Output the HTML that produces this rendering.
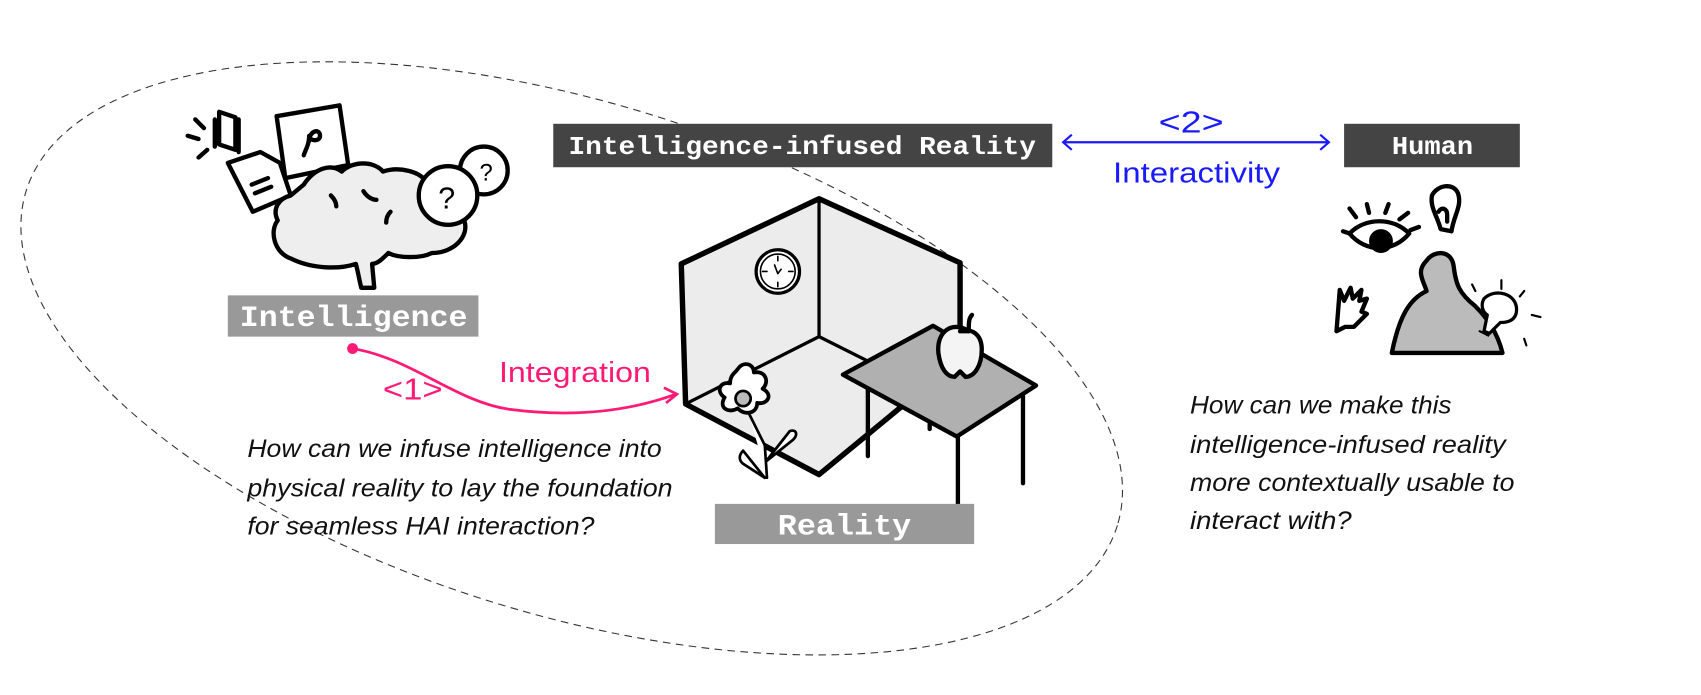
<!DOCTYPE html>
<html><head><meta charset="utf-8"><style>
html,body{margin:0;padding:0;background:#fff;width:1701px;height:695px;overflow:hidden}
svg{display:block;position:absolute;left:0;top:0}
.mono{font-family:"Liberation Mono","DejaVu Sans Mono",monospace;fill:#fff;font-weight:bold}
.it{font-family:"Liberation Sans",sans-serif;font-style:italic;font-size:23px;fill:#111}
.sk{fill:none;stroke:#000;stroke-width:4;stroke-linecap:round;stroke-linejoin:round}
</style></head><body>
<svg width="1701" height="695" viewBox="0 0 1568 640" preserveAspectRatio="none">
<ellipse cx="527" cy="330" rx="526" ry="236" transform="rotate(17 527 330)" fill="none" stroke="#333" stroke-width="1" stroke-dasharray="7,5"/>

<!-- Intelligence drawing -->
<g class="sk" stroke-width="3.5">
<path d="M173,125 l10,3 M180,110 l8,8 M183,145 l8,-7"/>
<path d="M198,110 l0,25 M202,103 l15,5 l0,30 l-15,-5 z M220,110 l0,30" fill="#fff"/>
<path d="M255,107 l58,-10 l8,55 l-58,12 z" fill="#fff"/>
<path d="M285,130 c0,-10 10,-12 10,-5 c0,6 -10,5 -10,0 c0,8 -3,12 -5,18"/>
<path d="M210,150 l30,-10 l18,10 l10,30 l-35,15 z" fill="#fff"/>
<path d="M232,170 l15,-6 M235,178 l15,-6"/>
<path d="M280,170 c10,-15 25,-20 35,-12 c10,-10 30,-10 38,0 c15,-5 35,0 40,10 c20,0 35,15 35,35 c5,15 -10,30 -30,30 c-10,5 -30,5 -40,0 c-5,5 -10,10 -15,10 l2,22 l-12,0 c-2,-8 -3,-15 -5,-22 c-15,5 -40,5 -60,-5 c-15,-5 -20,-25 -12,-35 c-5,-10 0,-20 12,-23 z" fill="#eee"/>
<path d="M305,180 c3,3 5,6 5,10 M335,176 c3,5 8,8 12,8 M360,195 c-3,3 -4,7 -4,10"/>
<circle cx="446" cy="157" r="22" fill="#fff"/>
<circle cx="413" cy="180" r="27" fill="#fff"/>
<text x="404" y="192" font-family="Liberation Sans" font-size="28" fill="#000" stroke="none">?</text>
<text x="442" y="166" font-family="Liberation Sans" font-size="22" fill="#000" stroke="none">?</text>
</g>
<rect x="210" y="272" width="231" height="38" fill="#999"/>
<text class="mono" x="221" y="300" font-size="27" textLength="210" lengthAdjust="spacingAndGlyphs">Intelligence</text>

<!-- Room -->
<g class="sk">
<path d="M628,243 L755,183 L885,242 L885,330 L800,400 L755,437 L632,372 Z" fill="#ececec" stroke-width="5"/>
<path d="M755,183 L755,310 M632,372 L755,310 L825,345" stroke-width="3"/>
<circle cx="717" cy="250" r="20" fill="#fff" stroke-width="3"/>
<circle cx="717" cy="250" r="16" fill="none" stroke-width="1.5"/>
<path d="M717,236 v4 M717,260 v4 M703,250 h4 M727,250 h4 M714,244 l3,8 l3,-4" stroke-width="1.5"/>
<path d="M800,355 L800,420 M857,380 L857,395 M883,400 L883,465 M943,365 L943,445"/>
<path d="M777,345 L860,300 L955,355 L882,402 Z" fill="#b0b0b0"/>
<path d="M893,305 c-15,-10 -30,0 -28,20 c2,15 8,22 15,22 l5,-5 l5,5 c8,0 15,-10 15,-25 c0,-15 -10,-20 -20,-17 z" fill="#f4f4f4"/>
<path d="M893,305 c0,-8 0,-12 3,-15"/>
<path d="M680,340 c5,-8 15,-5 15,3 c10,-2 15,8 8,15 c10,5 5,15 -5,13 c0,10 -12,12 -18,5 c-8,5 -18,0 -12,-10 c-8,-5 -5,-15 5,-13 c0,-8 5,-10 7,-13 z" fill="#fff" stroke-width="3.5"/>
<circle cx="685" cy="367" r="7" fill="#bbb" stroke-width="2.5"/>
<path d="M690,380 l15,30 l2,30 M706,425 l25,-20 c5,-5 3,-10 -3,-8 l-22,28 M705,440 l-20,-25 c-5,5 -3,10 0,12 z" stroke-width="2.5" fill="#fff"/>
</g>
<rect x="659" y="464" width="239" height="37" fill="#999"/>
<text class="mono" x="717" y="492" font-size="27" textLength="123" lengthAdjust="spacingAndGlyphs">Reality</text>

<!-- Top labels -->
<rect x="510" y="114" width="460" height="40" fill="#444"/>
<text class="mono" x="524" y="142" font-size="24" textLength="431" lengthAdjust="spacingAndGlyphs">Intelligence-infused Reality</text>
<rect x="1239" y="114" width="162" height="40" fill="#444"/>
<text class="mono" x="1283" y="142" font-size="24" textLength="75" lengthAdjust="spacingAndGlyphs">Human</text>

<!-- Blue arrow -->
<path d="M980,131 L1225,131 M988,124 l-8,7 l8,7 M1217,124 l8,7 l-8,7" stroke="#1a1aff" stroke-width="2" fill="none"/>
<text x="1068" y="122" font-family="Liberation Sans" font-size="28" fill="#1a1aff" textLength="60" lengthAdjust="spacingAndGlyphs">&lt;2&gt;</text>
<text x="1026" y="168" font-family="Liberation Sans" font-size="26" fill="#1a1aff" textLength="154" lengthAdjust="spacingAndGlyphs">Interactivity</text>

<!-- Pink arrow -->
<circle cx="325" cy="321" r="5" fill="#ff1a75"/>
<path d="M325,321 C380,330 420,370 470,377 C540,386 590,375 623,363" stroke="#ff1a75" stroke-width="2.5" fill="none"/>
<path d="M612,357 l12,6 l-10,8" stroke="#ff1a75" stroke-width="2.5" fill="none"/>
<text x="460" y="352" font-family="Liberation Sans" font-size="26" fill="#ff1a75" textLength="140" lengthAdjust="spacingAndGlyphs">Integration</text>
<text x="353" y="368" font-family="Liberation Sans" font-size="28" fill="#ff1a75" textLength="55" lengthAdjust="spacingAndGlyphs">&lt;1&gt;</text>

<!-- Human drawing -->
<g class="sk" stroke-width="4">
<path d="M1283,325 C1290,290 1300,275 1315,268 C1312,258 1305,250 1315,240 C1322,230 1338,230 1340,245 C1342,262 1345,270 1360,282 C1370,292 1380,305 1385,325 Z" fill="#bbb"/>
<path d="M1244,215 c15,-15 40,-15 55,0 c-15,18 -40,18 -55,0 z" fill="#fff"/>
<circle cx="1273" cy="222" r="9" fill="#000"/>
<path d="M1250,200 l-6,-8 M1262,196 l-2,-8 M1277,196 l3,-8 M1290,202 l8,-6 M1300,212 l8,-3 M1244,215 l-6,-2"/>
<path d="M1320,180 c5,-10 20,-12 24,-2 c4,12 -4,20 -6,35 l-10,-2 c-3,-12 -10,-20 -8,-31 z M1326,195 c3,-5 8,-3 8,3 v6" fill="#fff"/>
<path d="M1232,305 l3,-38 l4,10 l6,-12 l2,10 l8,-8 l-2,10 l7,-2 l-5,12 l5,2 l-12,12 l-8,0 z" fill="#fff"/>
<path d="M1368,275 c10,-10 30,-5 30,10 c0,10 -8,12 -15,12 l-10,10 l-5,-2 l3,-15 c-5,-3 -6,-10 -3,-15 z" fill="#fff" stroke-width="3"/>
<path d="M1364,305 l8,4 M1357,262 l3,6 M1384,258 l0,8 M1405,268 l-4,5 M1412,290 l8,2 M1405,312 l2,6" stroke-width="2"/>
</g>

<!-- Italic texts -->
<text class="it" x="228" y="421" textLength="382" lengthAdjust="spacingAndGlyphs">How can we infuse intelligence into</text>
<text class="it" x="228" y="457" textLength="392" lengthAdjust="spacingAndGlyphs">physical reality to lay the foundation</text>
<text class="it" x="228" y="492" textLength="320" lengthAdjust="spacingAndGlyphs">for seamless HAI interaction?</text>
<text class="it" x="1097" y="381" textLength="241" lengthAdjust="spacingAndGlyphs">How can we make this</text>
<text class="it" x="1097" y="417" textLength="291" lengthAdjust="spacingAndGlyphs">intelligence-infused reality</text>
<text class="it" x="1097" y="452" textLength="299" lengthAdjust="spacingAndGlyphs">more contextually usable to</text>
<text class="it" x="1097" y="487" textLength="149" lengthAdjust="spacingAndGlyphs">interact with?</text>
</svg>
</body></html>
